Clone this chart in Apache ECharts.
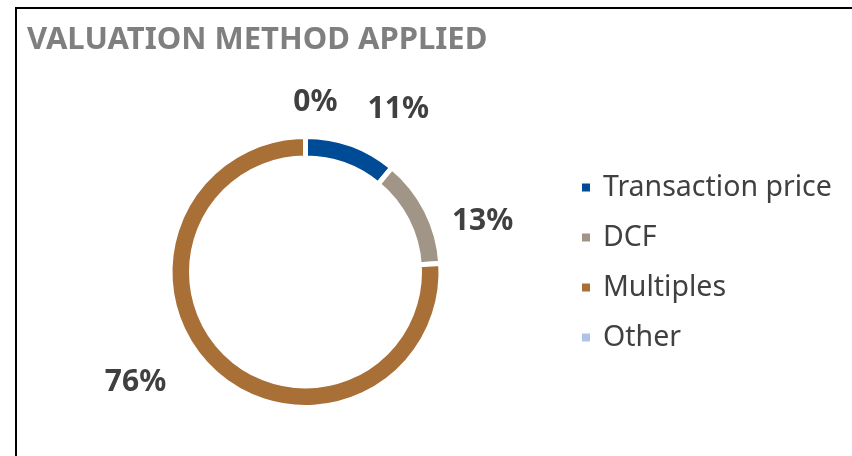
<!DOCTYPE html>
<html>
<head>
<meta charset="utf-8">
<script src="https://cdn.jsdelivr.net/npm/echarts@6/dist/echarts.min.js"></script>
<style>
  html, body { margin: 0; padding: 0; background: #ffffff; }
  #chart { width: 852px; height: 456px; }
  /* frame of the original slide panel: only top and left edges are visible */
  .frame {
    position: absolute;
    left: 15px;
    top: 7px;
    width: 900px;
    height: 500px;
    border-left: 2px solid #000;
    border-top: 2px solid #000;
    pointer-events: none;
  }
</style>
</head>
<body>
<div id="chart"></div>
<div class="frame"></div>
<script>
const categories = ['Transaction price', 'DCF', 'Multiples', 'Other']
const shares = [11, 13, 76, 0]
const colors = ['#004b96', '#a09586', '#a86f37', '#aec4e6']

// small nudges so the labels sit where the original placed them
const labelShift = [
  { dx: 1, dy: -7 },
  { dx: -6, dy: 25 },
  { dx: -21, dy: -10 },
  { dx: 37, dy: -4 },
]

const chart = echarts.init(document.getElementById('chart'))

chart.setOption({
  animation: false,
  title: {
    text: 'VALUATION METHOD APPLIED',
    left: 22,
    top: 20,
    textStyle: {
      fontFamily: 'Noto Sans',
      fontSize: 31,
      fontWeight: 'bold',
      color: '#7f7f7f',
    },
  },
  legend: {
    orient: 'vertical',
    left: 575,
    top: 168,
    itemWidth: 10,
    itemHeight: 10,
    itemGap: 21,
    icon: 'rect',
    data: categories,
    textStyle: {
      fontFamily: 'Noto Sans',
      fontSize: 28.5,
      lineHeight: 28,
      color: '#404040',
      padding: [0, 0, 0, 7],
    },
  },
  series: [
    {
      type: 'pie',
      center: [305.5, 272],
      radius: [114, 135.5],
      startAngle: 90,
      clockwise: true,
      avoidLabelOverlap: false,
      emphasis: { disabled: true },
      itemStyle: { borderColor: '#ffffff', borderWidth: 5 },
      label: {
        show: true,
        position: 'outside',
        formatter: (p) => `${p.value}%`,
        fontFamily: 'Noto Sans',
        fontSize: 30,
        fontWeight: 'bold',
        color: '#404040',
      },
      labelLine: { show: false, length: 30, length2: 0 },
      labelLayout: (params) => labelShift[params.dataIndex],
      data: categories.map((name, i) => ({
        name,
        value: shares[i],
        itemStyle: { color: colors[i] },
      })),
    },
  ],
})
</script>
</body>
</html>
